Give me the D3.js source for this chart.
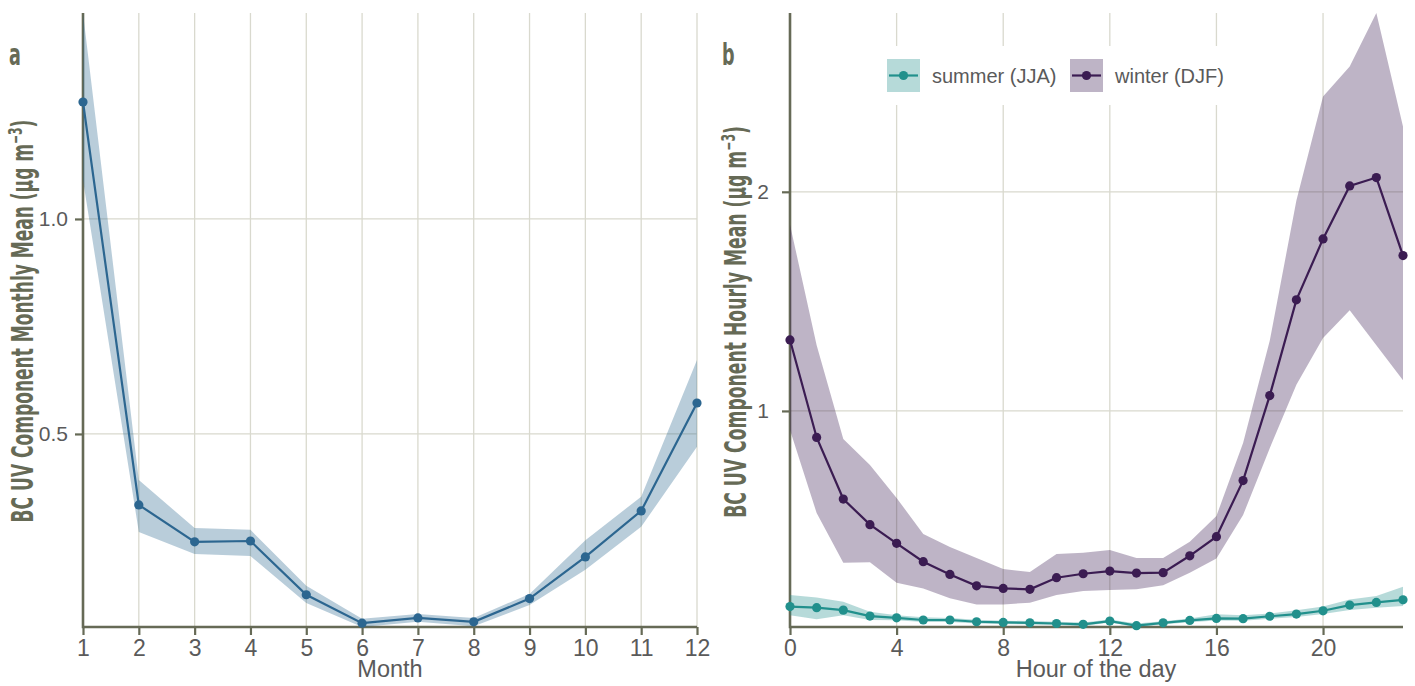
<!DOCTYPE html>
<html><head><meta charset="utf-8">
<script src="https://cdn.jsdelivr.net/npm/d3@7"></script>
<style>body{margin:0;background:#fff}svg{display:block}</style>
</head><body>
<svg id="c" width="1415" height="686"></svg>
<script>
// ---- data ----
const months = [1,2,3,4,5,6,7,8,9,10,11,12];
const monthMean  = [1.272,0.335,0.249,0.251,0.126,0.060,0.072,0.063,0.117,0.214,0.321,0.572];
const monthUpper = [1.479,0.393,0.281,0.277,0.147,0.070,0.081,0.072,0.128,0.253,0.354,0.672];
const monthLower = [1.090,0.272,0.221,0.216,0.107,0.051,0.063,0.053,0.102,0.184,0.284,0.470];

const hours = d3.range(0,24);
const winterMean  = [1.324,0.879,0.598,0.481,0.396,0.312,0.254,0.202,0.190,0.186,0.239,0.257,0.269,0.260,0.262,0.339,0.426,0.682,1.070,1.507,1.785,2.027,2.065,1.709];
const winterUpper = [1.850,1.300,0.872,0.753,0.603,0.438,0.379,0.329,0.279,0.265,0.347,0.353,0.365,0.329,0.329,0.403,0.521,0.854,1.320,1.960,2.435,2.572,2.816,2.298];
const winterLower = [0.913,0.534,0.307,0.309,0.216,0.190,0.145,0.117,0.117,0.125,0.160,0.178,0.183,0.186,0.205,0.262,0.327,0.525,0.830,1.120,1.333,1.460,1.300,1.140];
const summerMean  = [0.107,0.102,0.091,0.064,0.056,0.046,0.046,0.038,0.035,0.033,0.030,0.026,0.041,0.020,0.033,0.044,0.053,0.052,0.063,0.073,0.088,0.114,0.126,0.138];
const summerUpper = [0.160,0.149,0.129,0.084,0.068,0.058,0.055,0.047,0.043,0.041,0.038,0.035,0.048,0.030,0.040,0.053,0.072,0.068,0.076,0.091,0.107,0.140,0.155,0.198];
const summerLower = [0.068,0.049,0.068,0.046,0.045,0.037,0.037,0.030,0.028,0.026,0.023,0.019,0.034,0.014,0.027,0.036,0.044,0.043,0.052,0.060,0.073,0.092,0.102,0.110];

const monthTicks = [1,2,3,4,5,6,7,8,9,10,11,12];
const monthYTicks = [0.5,1.0];
const hourTicks = [0,4,8,12,16,20];
const hourYTicks = [1,2];
const seriesNames = ["summer (JJA)","winter (DJF)"];

// ---- style ----
const AX = "#666a56", GRID = "#d9d9ce", TXT = "#5a5a5a";
const cBlue = "#2c6690", cSum = "#21908c", cWin = "#3b1c52";
const bandOp = 0.33;
const SF = "'Liberation Sans', Arial, sans-serif";

const svg = d3.select("#c");

function panel(opt){
  const {xr, yr, xdom, ydom, xticks, yticks, yfmt, ypad} = opt;
  const x = d3.scaleLinear().domain(xdom).range(xr);
  const y = d3.scaleLinear().domain(ydom).range(yr);
  const g = svg.append("g");
  // grid
  g.selectAll(".vg").data(xticks.filter(t=>t!==xdom[0])).join("line")
    .attr("x1",d=>x(d)).attr("x2",d=>x(d)).attr("y1",yr[0]).attr("y2",yr[1])
    .attr("stroke",GRID).attr("stroke-width",1.3);
  g.selectAll(".hg").data(yticks).join("line")
    .attr("x1",xr[0]).attr("x2",xr[1]).attr("y1",d=>y(d)).attr("y2",d=>y(d))
    .attr("stroke",GRID).attr("stroke-width",1.3);
  // axes
  const xa = g.append("g").attr("transform",`translate(0,${yr[0]})`)
    .call(d3.axisBottom(x).tickValues(xticks).tickSize(8).tickSizeOuter(0).tickPadding(5));
  const ya = g.append("g").attr("transform",`translate(${xr[0]},0)`)
    .call(d3.axisLeft(y).tickValues(yticks).tickFormat(yfmt).tickSize(8).tickSizeOuter(0).tickPadding(ypad));
  [xa,ya].forEach(a=>{
    a.select(".domain").attr("stroke",AX).attr("stroke-width",2.6);
    a.selectAll(".tick line").attr("stroke",AX).attr("stroke-width",2.2);
    a.selectAll(".tick text").attr("fill",TXT).style("font-family",SF);
  });
  xa.selectAll(".tick text").style("font-size","23px");
  ya.selectAll(".tick text").style("font-size","21px");
  ya.select(".domain").attr("d",`M0,${yr[0]+1.3}V${yr[1]}`);
  xa.select(".domain").attr("d",`M${xr[0]},0H${xr[1]}`);
  return {x,y,g};
}

function series(p, xs, mean, up, lo, col){
  const area = d3.area().x((d,i)=>p.x(xs[i])).y0((d,i)=>p.y(lo[i])).y1((d,i)=>p.y(up[i]));
  p.g.append("path").attr("d",area(mean)).attr("fill",col).attr("fill-opacity",bandOp);
  const line = d3.line().x((d,i)=>p.x(xs[i])).y(d=>p.y(d));
  p.g.append("path").attr("d",line(mean)).attr("fill","none").attr("stroke",col).attr("stroke-width",2.2);
  p.g.selectAll(null).data(mean).join("circle")
    .attr("cx",(d,i)=>p.x(xs[i])).attr("cy",d=>p.y(d)).attr("r",4.6).attr("fill",col);
}

// panel a
const ydomA = [d3.min(monthLower), d3.max(monthUpper)];
const pa = panel({xr:[83,697], yr:[627,13], xdom:[1,12], ydom:ydomA, xticks:monthTicks, yticks:monthYTicks, yfmt:d3.format(".1f"), ypad:7});
series(pa, months, monthMean, monthUpper, monthLower, cBlue);

// panel b
const ydomB = [d3.min(summerLower), d3.max(winterUpper)];
const pb = panel({xr:[790,1403], yr:[627,13], xdom:[0,23], ydom:ydomB, xticks:hourTicks, yticks:hourYTicks, yfmt:d3.format("d"), ypad:13});
// legend background
pb.g.append("rect").attr("x",875).attr("y",46).attr("width",360).attr("height",59).attr("fill","#fff");
series(pb, hours, summerMean, summerUpper, summerLower, cSum);
series(pb, hours, winterMean, winterUpper, winterLower, cWin);

// legend
const leg = [{n:seriesNames[0],c:cSum,x:887,tx:932},{n:seriesNames[1],c:cWin,x:1070,tx:1115}];
leg.forEach(l=>{
  svg.append("rect").attr("x",l.x).attr("y",59).attr("width",33).attr("height",33).attr("fill",l.c).attr("fill-opacity",bandOp);
  svg.append("line").attr("x1",l.x+2).attr("x2",l.x+31).attr("y1",75.5).attr("y2",75.5).attr("stroke",l.c).attr("stroke-width",2.2);
  svg.append("circle").attr("cx",l.x+16.5).attr("cy",75.5).attr("r",4.6).attr("fill",l.c);
  svg.append("text").attr("x",l.tx).attr("y",83).text(l.n).attr("fill",TXT)
    .style("font-family",SF).style("font-size","20px");
});

// x labels
svg.append("text").attr("x",390).attr("y",677).attr("text-anchor","middle").text("Month")
  .attr("fill",TXT).style("font-family",SF).style("font-size","23.5px");
svg.append("text").attr("x",1096).attr("y",677).attr("text-anchor","middle").text("Hour of the day")
  .attr("fill",TXT).style("font-family",SF).style("font-size","23.5px");

// condensed bold titles
const TF = "'DejaVu Sans Condensed', 'DejaVu Sans', sans-serif";
function ytitle(cx, cy, main, targetLen){
  const g = svg.append("g");
  const t = g.append("text").attr("text-anchor","middle").attr("fill",AX)
    .style("font-family",TF).style("font-weight","bold").style("font-size","30px");
  t.append("tspan").text(main + " (μg m");
  t.append("tspan").text("−3").style("font-size","19px").attr("dy",-11);
  t.append("tspan").text(")").attr("dy",11);
  const w = t.node().getBBox().width;
  const s = targetLen / w;
  g.attr("transform",`translate(${cx},${cy}) rotate(-90) scale(${s},1)`);
}
ytitle(33, 321, "BC UV Component Monthly Mean", 403);
ytitle(746, 322, "BC UV Component Hourly Mean", 392);

function plabel(x, y, s){
  svg.append("text").attr("transform",`translate(${x},${y}) scale(0.65,1)`).text(s)
    .attr("fill",AX).style("font-family",TF).style("font-weight","bold").style("font-size","30px");
}
plabel(9, 65, "a");
plabel(722, 65, "b");
</script>
</body></html>
